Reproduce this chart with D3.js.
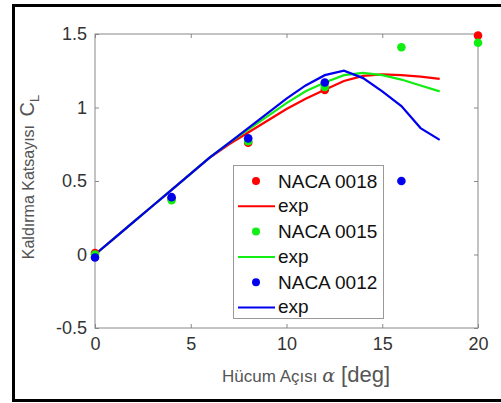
<!DOCTYPE html>
<html>
<head>
<meta charset="utf-8">
<script src="https://cdn.jsdelivr.net/npm/d3@7"></script>
<style>
  body { margin: 0; background: #fff; }
  text { font-family: "Liberation Sans", Arial, sans-serif; }
</style>
</head>
<body>
<svg width="501" height="403"></svg>
<script>
// angle of attack (deg) for the exp curves
var alphaExp = [0, 1, 2, 3, 4, 5, 6, 7, 8, 9, 10, 11, 12, 13, 14, 15, 16, 17, 18];
var exp0018 = [0, 0.11, 0.22, 0.33, 0.44, 0.55, 0.66, 0.75, 0.83, 0.91, 0.99, 1.06, 1.12, 1.18, 1.215, 1.225, 1.22, 1.21, 1.195];
var exp0015 = [0, 0.11, 0.22, 0.33, 0.44, 0.55, 0.66, 0.76, 0.85, 0.94, 1.03, 1.11, 1.17, 1.22, 1.235, 1.22, 1.19, 1.15, 1.11];
var exp0012 = [0, 0.11, 0.22, 0.33, 0.44, 0.55, 0.66, 0.76, 0.86, 0.96, 1.06, 1.15, 1.22, 1.25, 1.2, 1.11, 1.01, 0.86, 0.78];

// computed points
var alpha0018 = [0, 4, 8, 12, 20];
var cl0018 = [0.01, 0.38, 0.76, 1.12, 1.49];
var alpha0015 = [0, 4, 8, 12, 16, 20];
var cl0015 = [0, 0.37, 0.77, 1.14, 1.41, 1.44];
var alpha0012 = [0, 4, 8, 12, 16];
var cl0012 = [-0.02, 0.39, 0.79, 1.17, 0.50];

var xTicks = [0, 5, 10, 15, 20];
var yTicks = [-0.5, 0, 0.5, 1, 1.5];

var series = [
  {name: "NACA 0018", color: "#ff0000", ax: alpha0018, ay: cl0018, ey: exp0018},
  {name: "NACA 0015", color: "#11ee11", ax: alpha0015, ay: cl0015, ey: exp0015},
  {name: "NACA 0012", color: "#0000ee", ax: alpha0012, ay: cl0012, ey: exp0012}
];

var svg = d3.select("svg");

// outer frame
svg.append("rect")
    .attr("x", 13.5).attr("y", 5.5)
    .attr("width", 495).attr("height", 395)
    .attr("fill", "none").attr("stroke", "#000").attr("stroke-width", 3);

var pL = 95, pR = 478, pT = 34, pB = 328;

var x = d3.scaleLinear().domain([0, 20]).range([pL, pR]);
var y = d3.scaleLinear().domain([-0.5, 1.5]).range([pB, pT]);

// axes box
var axCol = "#888";
svg.append("rect")
    .attr("x", pL).attr("y", pT)
    .attr("width", pR - pL).attr("height", pB - pT)
    .attr("fill", "none").attr("stroke", axCol).attr("stroke-width", 1);

var xAxis = svg.append("g").attr("transform", "translate(0," + pB + ")")
    .call(d3.axisBottom(x).tickValues(xTicks).tickSize(-4).tickPadding(9));
var xAxisTop = svg.append("g").attr("transform", "translate(0," + pT + ")")
    .call(d3.axisTop(x).tickValues(xTicks).tickSize(-4).tickFormat(""));
var yAxis = svg.append("g").attr("transform", "translate(" + pL + ",0)")
    .call(d3.axisLeft(y).tickValues(yTicks).tickSize(-4).tickPadding(8)
      .tickFormat(function(d) { return String(d); }));
var yAxisRight = svg.append("g").attr("transform", "translate(" + pR + ",0)")
    .call(d3.axisRight(y).tickValues(yTicks).tickSize(-4).tickFormat(""));

[xAxis, xAxisTop, yAxis, yAxisRight].forEach(function(g) {
  g.select(".domain").remove();
  g.selectAll(".tick line").attr("stroke", axCol);
  g.selectAll(".tick text")
    .attr("fill", "#333")
    .style("font-size", "18px")
    .style("font-family", "'Liberation Sans', Arial, sans-serif");
});

// curves
var line = d3.line()
    .x(function(d) { return x(d[0]); })
    .y(function(d) { return y(d[1]); });

series.forEach(function(s) {
  svg.append("path")
      .datum(d3.zip(alphaExp, s.ey))
      .attr("d", line)
      .attr("fill", "none")
      .attr("stroke", s.color)
      .attr("stroke-width", 2.2);
});

series.forEach(function(s) {
  svg.selectAll(null)
      .data(d3.zip(s.ax, s.ay))
      .enter()
      .append("circle")
      .attr("cx", function(d) { return x(d[0]); })
      .attr("cy", function(d) { return y(d[1]); })
      .attr("r", 4.3)
      .attr("fill", s.color);
});

// legend
var lg = svg.append("g");
lg.append("rect")
    .attr("x", 233.5).attr("y", 165.5)
    .attr("width", 150).attr("height", 153)
    .attr("fill", "#fff").attr("stroke", "#999");

var rowH = 25.3, row0 = 181;
series.forEach(function(s, i) {
  var yy = row0 + 2 * i * rowH;
  lg.append("circle").attr("cx", 256).attr("cy", yy).attr("r", 4).attr("fill", s.color);
  lg.append("text").attr("x", 278).attr("y", yy).attr("dy", "0.36em")
      .style("font-size", "19px").attr("fill", "#111").text(s.name);
  var y2 = yy + rowH;
  lg.append("line").attr("x1", 238).attr("x2", 275).attr("y1", y2).attr("y2", y2)
      .attr("stroke", s.color).attr("stroke-width", 2);
  lg.append("text").attr("x", 278).attr("y", y2).attr("dy", "0.3em")
      .style("font-size", "19px").attr("fill", "#111").text("exp");
});

// y label
var yl = svg.append("text")
    .attr("transform", "translate(34,177) rotate(-90)")
    .attr("text-anchor", "middle")
    .attr("fill", "#555");
yl.append("tspan").style("font-size", "16px").text("Kaldırma Katsayısı ");
yl.append("tspan").style("font-size", "20px").attr("dx", 4).text("C");
yl.append("tspan").style("font-size", "13px").attr("dy", 5).text("L");

// x label
var xl = svg.append("text")
    .attr("x", 222).attr("y", 382)
    .attr("fill", "#555");
xl.append("tspan").style("font-size", "17px").text("Hücum Açısı ");
xl.append("tspan").style("font-size", "19px").style("font-style", "italic")
    .style("font-family", "'DejaVu Serif', 'Liberation Serif', serif").text("α");
xl.append("tspan").style("font-size", "22px").text(" [deg]");
</script>
</body>
</html>
